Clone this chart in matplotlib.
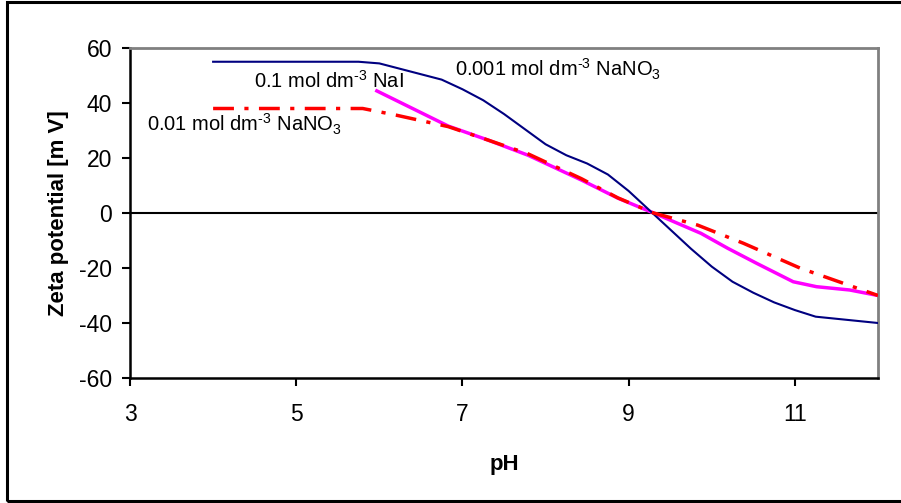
import matplotlib.pyplot as plt
from matplotlib.patches import Rectangle

plt.rcParams['font.family'] = ['Liberation Sans', 'DejaVu Sans']
plt.rcParams['mathtext.fontset'] = 'custom'
plt.rcParams['mathtext.rm'] = 'Liberation Sans'
plt.rcParams['mathtext.it'] = 'Liberation Sans'
plt.rcParams['axes.unicode_minus'] = False

# 0.001 mol dm-3 NaNO3
ph_blue = [4, 5.75, 6.0, 6.75, 7.0, 7.25, 7.5, 7.75, 8.0, 8.25, 8.5, 8.75, 9.0,
           9.25, 9.5, 9.75, 10.0, 10.25, 10.5, 10.75, 11.0, 11.25, 12.0]
zeta_blue = [55, 55, 54.4, 48.5, 45, 41, 36, 30.5, 25, 21, 18, 14, 8,
             1, -6, -13, -19.5, -25, -29, -32.5, -35.3, -37.7, -40]

# 0.1 mol dm-3 NaI
ph_mag = [5.97, 6.83, 7.31, 7.79, 8.43, 8.87, 9.3, 9.87, 10.19, 10.54, 10.98, 11.26, 11.66, 12.0]
zeta_mag = [44.4, 31.6, 26.5, 21, 12, 5.4, 0, -7.4, -12.8, -18.3, -25, -26.8, -28, -30]

# 0.01 mol dm-3 NaNO3
ph_red = [4, 5.8, 6.2, 6.83, 7.31, 7.79, 8.43, 8.87, 9.3, 9.83, 10.38, 11.06, 12.0]
zeta_red = [38, 38, 35.6, 31.4, 26.5, 21.5, 12.5, 5.5, 0, -4.4, -11, -20, -30]

fig = plt.figure(figsize=(9.01, 5.03), dpi=100)
ax = fig.add_axes([130/901, 125/503, 748/901, 330/503])

# outer frame
fig.patches.append(Rectangle((7/901, 2/503), 1.0, 499/503, transform=fig.transFigure,
                             fill=False, edgecolor='black', linewidth=2.2))

ax.axhline(0, color='black', linewidth=1.5, zorder=1)
ax.plot(ph_blue, zeta_blue, color='#000080', linewidth=1.5, zorder=3)
ax.plot(ph_mag, zeta_mag, color='#FF00FF', linewidth=2.5, zorder=2)
ax.plot(ph_red, zeta_red, color='#FF0000', linewidth=2.5, dashes=(6, 3, 1.2, 3), zorder=4)

sup = '$^{\\mathregular{\u20103}}$'
sub = '$_{\\mathregular{3}}$'
ax.text(6.91, 49.8, '0.001 mol dm' + sup + ' NaNO' + sub, fontsize=14.5, va='baseline')
ax.text(4.49, 45.5, '0.1 mol dm' + sup + ' NaI', fontsize=14.5, va='baseline')
ax.text(3.2, 29.5, '0.01 mol dm' + sup + ' NaNO' + sub, fontsize=14.5, va='baseline')

ax.set_xlim(3, 12)
ax.set_ylim(-60, 60)
ax.set_xticks([3, 5, 7, 9, 11])
ax.set_yticks(range(-60, 61, 20))
ax.tick_params(direction='out', length=6, width=1.5, labelsize=16.5)
ax.tick_params(axis='y', pad=7)
ax.tick_params(axis='x', pad=12)
for s in ['left', 'bottom']:
    ax.spines[s].set_linewidth(1.8)
    ax.spines[s].set_color('black')
for s in ['top', 'right']:
    ax.spines[s].set_linewidth(2)
    ax.spines[s].set_color('#808080')

ax.set_xlabel('pH', fontsize=16, fontweight='bold', labelpad=20)
ax.set_ylabel('Zeta potential [m V]', fontsize=16, fontweight='bold', labelpad=7)

fig.savefig('out.png', dpi=100)
